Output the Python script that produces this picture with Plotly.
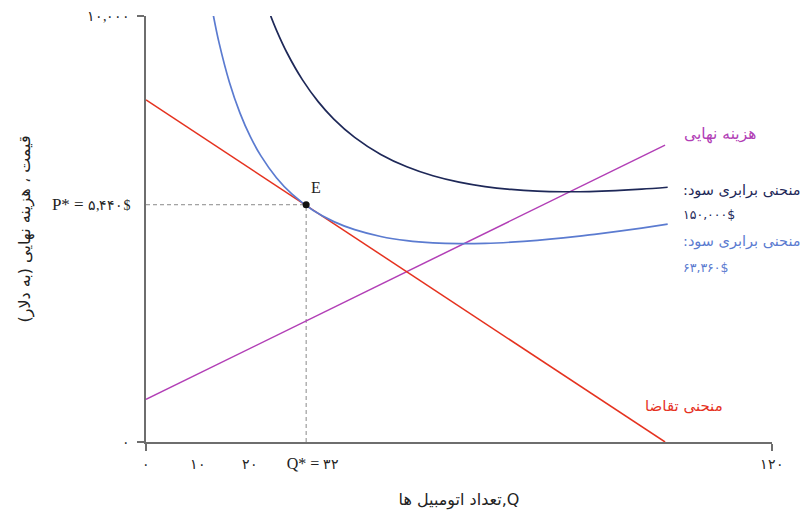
import plotly.graph_objects as go

# ---- data ----
demand_q = [0, 99.5]
demand_p = [8030, 0]

mc_q = [0, 99.5]
mc_p = [1000, 6970]

iso_low_q = [12.9, 14, 16, 18, 20, 22, 25, 28, 32, 36, 40, 45, 50, 55, 60, 65, 70, 75, 80, 85, 90, 95, 100]
iso_low_p = [10020, 9374, 8440, 7727, 7168, 6722, 6204, 5817, 5440, 5173, 4984, 4825, 4727, 4675,
             4656, 4663, 4691, 4735, 4792, 4860, 4937, 5022, 5114]

iso_high_q = [23.9, 25, 27, 30, 33, 36, 40, 45, 50, 55, 60, 65, 70, 75, 80, 85, 90, 95, 100]
iso_high_p = [10002, 9670, 9143, 8500, 7990, 7580, 7150, 6750, 6460, 6250, 6100, 5996, 5929,
              5890, 5875, 5879, 5900, 5934, 5980]

eq_q = 30.7
eq_p = 5570

x_tickvals = [0, 10, 20, 32, 120]
x_ticktext = ["۰", "۱۰", "۲۰", "<span style='font-size:16px'>Q* = </span>۳۲", "۱۲۰"]
y_tickvals = [0, 5570, 10000]
y_ticktext = ["۰", "<span style='font-size:17px'>P* = </span>۵,۴۴۰$", "۱۰,۰۰۰"]

RLE, PDF = "\u202b", "\u202c"

RED = "#e5321f"
MAG = "#b23fb6"
NAVY = "#1e2858"
LBLUE = "#5b7bd0"
GRAY = "#6e6e6e"

fa_font = "DejaVu Sans, Noto Sans, sans-serif"
serif_font = "Liberation Serif, DejaVu Serif, serif"

fig = go.Figure()

# dashed guides
fig.add_trace(go.Scatter(x=[0, eq_q], y=[eq_p, eq_p], mode="lines",
                         line=dict(color="#8a8a8a", width=1, dash="4px,3px"), hoverinfo="skip"))
fig.add_trace(go.Scatter(x=[eq_q, eq_q], y=[0, eq_p], mode="lines",
                         line=dict(color="#8a8a8a", width=1, dash="4px,3px"), hoverinfo="skip"))

fig.add_trace(go.Scatter(x=mc_q, y=mc_p, mode="lines", line=dict(color=MAG, width=1.5)))
fig.add_trace(go.Scatter(x=demand_q, y=demand_p, mode="lines", line=dict(color=RED, width=1.5)))
fig.add_trace(go.Scatter(x=iso_high_q, y=iso_high_p, mode="lines", line=dict(color=NAVY, width=1.7, shape="spline")))
fig.add_trace(go.Scatter(x=iso_low_q, y=iso_low_p, mode="lines", line=dict(color=LBLUE, width=1.7, shape="spline")))

fig.add_trace(go.Scatter(x=[eq_q], y=[eq_p], mode="markers",
                         marker=dict(color="#111111", size=7), cliponaxis=False))

annotations = [
    dict(x=32.6, y=5980, text="E", font=dict(family=serif_font, size=16, color="#222")),
    dict(x=110.1, y=7230, text=RLE + "هزینه نهایی" + PDF, font=dict(family=fa_font, size=15.5, color=MAG)),
    dict(x=102.6, y=5910, text=RLE + "منحنی برابری سود:" + PDF, xanchor="left", font=dict(family=fa_font, size=14.5, color=NAVY)),
    dict(x=102.6, y=5330, text="۱۵۰,۰۰۰$", xanchor="left", font=dict(family=fa_font, size=12.5, color=NAVY)),
    dict(x=102.6, y=4700, text=RLE + "منحنی برابری سود:" + PDF, xanchor="left", font=dict(family=fa_font, size=14.5, color=LBLUE)),
    dict(x=102.6, y=4090, text="۶۳,۳۶۰$", xanchor="left", font=dict(family=fa_font, size=12.5, color=LBLUE)),
    dict(x=103.2, y=840, text=RLE + "منحنی تقاضا" + PDF, font=dict(family=fa_font, size=15, color=RED)),
]
for a in annotations:
    a.update(xref="x", yref="y", showarrow=False)

# the page body adds an 8px offset; margins compensate so the plot area sits where the reference has it
fig.update_layout(
    width=810, height=517,
    margin=dict(l=138, r=46, t=8, b=83),
    paper_bgcolor="white", plot_bgcolor="white",
    showlegend=False,
    annotations=annotations,
    xaxis=dict(range=[0, 120], showgrid=False, zeroline=False, showline=True, automargin=False,
               linecolor=GRAY, linewidth=1.5,
               tickvals=x_tickvals, ticktext=x_ticktext, ticks="",
               ticklabelstandoff=8,
               tickfont=dict(family=serif_font, size=14, color="#222"),
               minor=dict(ticks="outside", ticklen=7, tick0=0, dtick=120, tickcolor=GRAY, tickwidth=1.5, showgrid=False),
               title=dict(text="تعداد اتومبیل ها,Q", font=dict(family=fa_font, size=16, color="#222"), standoff=23)),
    yaxis=dict(range=[0, 10000], showgrid=False, zeroline=False, showline=True, automargin=False,
               linecolor=GRAY, linewidth=1.5,
               tickvals=y_tickvals, ticktext=y_ticktext, ticks="",
               ticklabelstandoff=11,
               tickfont=dict(family=serif_font, size=14, color="#222"),
               minor=dict(ticks="outside", ticklen=7, tick0=0, dtick=10000, tickcolor=GRAY, tickwidth=1.5, showgrid=False),
               title=dict(text=RLE + "قیمت ، هزینه نهایی (به دلار)" + PDF, font=dict(family=fa_font, size=16, color="#222"), standoff=17)),
)

fig.write_html("out.html")
